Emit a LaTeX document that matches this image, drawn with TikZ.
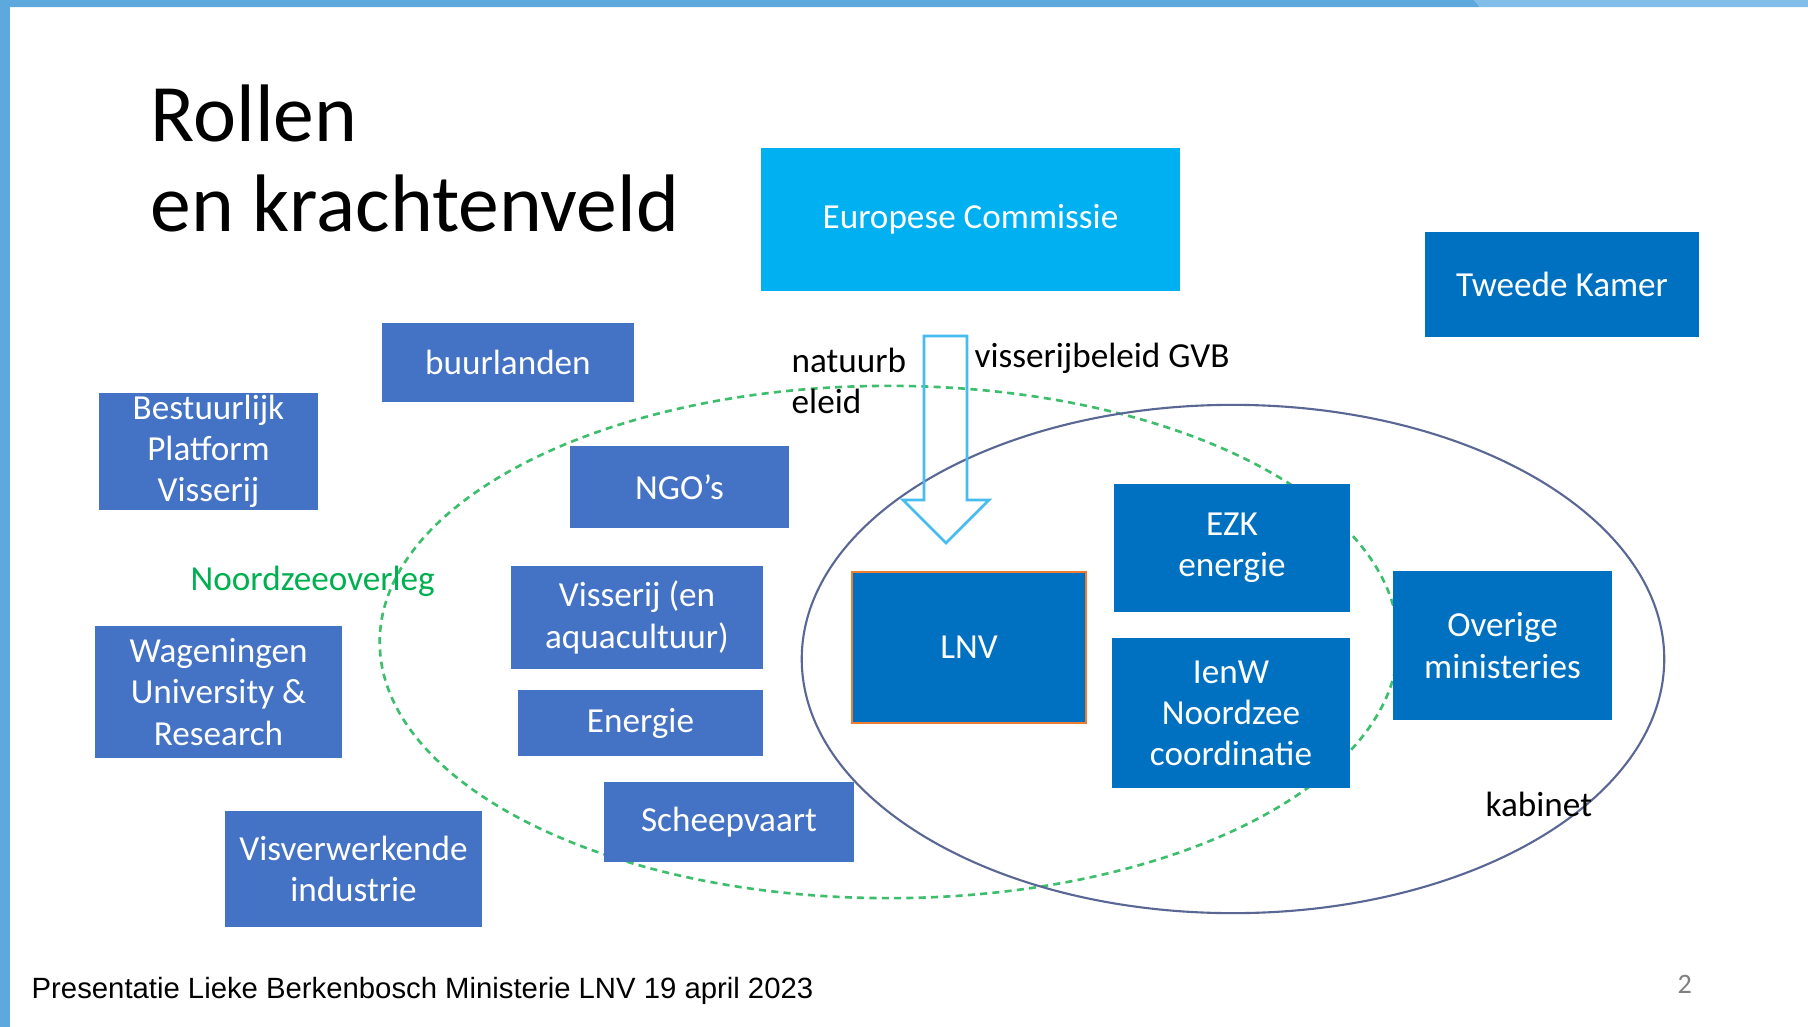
\documentclass[tikz,border=0pt]{standalone}
\usepackage{fontspec}
\setmainfont{Carlito}
\newfontfamily\footfont{Liberation Sans}
\definecolor{barblue}{HTML}{5DA9DD}
\definecolor{barlight}{HTML}{80BDE8}
\definecolor{boxblue}{HTML}{4472C4}
\definecolor{minblue}{HTML}{0070C0}
\definecolor{ecblue}{HTML}{00B0F0}
\definecolor{arrowblue}{HTML}{45BDF0}
\definecolor{kabcolor}{HTML}{5A6794}
\definecolor{overleggreen}{HTML}{3DBE6C}
\definecolor{textgreen}{HTML}{00B050}
\definecolor{lnvorange}{HTML}{ED7D31}
\tikzstyle{box}=[rectangle, fill=boxblue, text=white, inner sep=0, align=center, font=\fontsize{10}{11.7}\selectfont]
\tikzstyle{minbox}=[box, fill=minblue]
\tikzstyle{plaintext}=[inner sep=0, anchor=base west, font=\fontsize{10}{11.7}\selectfont]
\tikzstyle{greendash}=[overleggreen, line width=0.75pt, dash pattern=on 2pt off 1.5pt]
\tikzstyle{kabinetline}=[kabcolor, line width=0.6pt]
\tikzstyle{bigarrow}=[arrowblue, line width=0.75pt, line join=miter]

\begin{document}
\begin{tikzpicture}[x=0.01cm, y=-0.01cm]
  \useasboundingbox (0,0) rectangle (1808,1027);
  \fill[white] (0,0) rectangle (1808,1027);
  \fill[barblue] (0,0) -- (1474,0) -- (1480,7) -- (0,7) -- cycle;
  \fill[barlight] (1474,0) -- (1808,0) -- (1808,7) -- (1480,7) -- cycle;
  \fill[barblue] (0,0) rectangle (10,1027);

  \node[plaintext, font=\fontsize{23.2}{25.6}\selectfont] (titel1) at (150,141) {Rollen};
  \node[plaintext, font=\fontsize{23.2}{25.6}\selectfont] (titel2) at (150,231) {en krachtenveld};

  \draw[greendash] (889,642) ellipse [x radius=5.09cm, y radius=2.56cm];
  \draw[kabinetline] (1233,659) ellipse [x radius=4.31cm, y radius=2.54cm];

  \node[box, fill=ecblue, minimum width=4.19cm, minimum height=1.43cm] (EC) at (970.5,219.5) {Europese Commissie};
  \node[minbox, minimum width=2.74cm, minimum height=1.05cm] (TK) at (1562,284.5) {Tweede Kamer};
  \node[box, minimum width=2.52cm, minimum height=0.79cm] (buur) at (508,362.5) {buurlanden};
  \node[box, minimum width=2.19cm, minimum height=1.17cm] (BPV) at (208.5,451.5) {\raisebox{-1mm}{\parbox{2.19cm}{\centering Bestuurlijk\\Platform\\Visserij}}};
  \node[box, minimum width=2.19cm, minimum height=0.82cm] (NGO) at (679.5,487) {NGO’s};
  \node[box, minimum width=2.52cm, minimum height=1.03cm] (vis) at (637,617.5) {Visserij (en\\aquacultuur)};
  \node[box, minimum width=2.45cm, minimum height=0.66cm] (energie) at (640.5,723) {Energie};
  \node[box, minimum width=2.50cm, minimum height=0.80cm] (schip) at (729,822) {Scheepvaart};
  \node[box, minimum width=2.47cm, minimum height=1.32cm] (WUR) at (218.5,692) {Wageningen\\University \&\\Research};
  \node[box, minimum width=2.57cm, minimum height=1.16cm] (visverw) at (353.5,869) {Visverwerkende\\industrie};
  \node[minbox, draw=lnvorange, line width=0.4pt, minimum width=2.34cm, minimum height=1.51cm] (LNV) at (969,647.5) {LNV};
  \node[minbox, minimum width=2.36cm, minimum height=1.28cm] (EZK) at (1232,548) {EZK\\energie};
  \node[minbox, minimum width=2.38cm, minimum height=1.50cm] (IenW) at (1231,713) {IenW\\Noordzee\\coordinatie};
  \node[minbox, minimum width=2.19cm, minimum height=1.49cm] (overig) at (1502.5,645.5) {Overige\\ministeries};

  \draw[bigarrow] (924,336) -- (967,336) -- (967,500) -- (989,500) -- (946,543) -- (903,500) -- (924,500) -- cycle;

  \node[plaintext] (natuur1) at (791,372) {natuurb};
  \node[plaintext] (natuur2) at (791,413) {eleid};
  \node[plaintext] (GVB) at (974,367) {visserijbeleid GVB};
  \node[plaintext, text=textgreen] (NZO) at (190,590) {Noordzeeoverleg};
  \node[plaintext] (kabinet) at (1485,816) {kabinet};

  \node[plaintext, font=\footfont\fontsize{8.33}{10}\selectfont] (voet) at (31,998) {Presentatie Lieke Berkenbosch Ministerie LNV 19 april 2023};
  \node[plaintext, text=gray, font=\fontsize{8}{9}\selectfont] (pagina) at (1677,993) {2};
\end{tikzpicture}
\end{document}
